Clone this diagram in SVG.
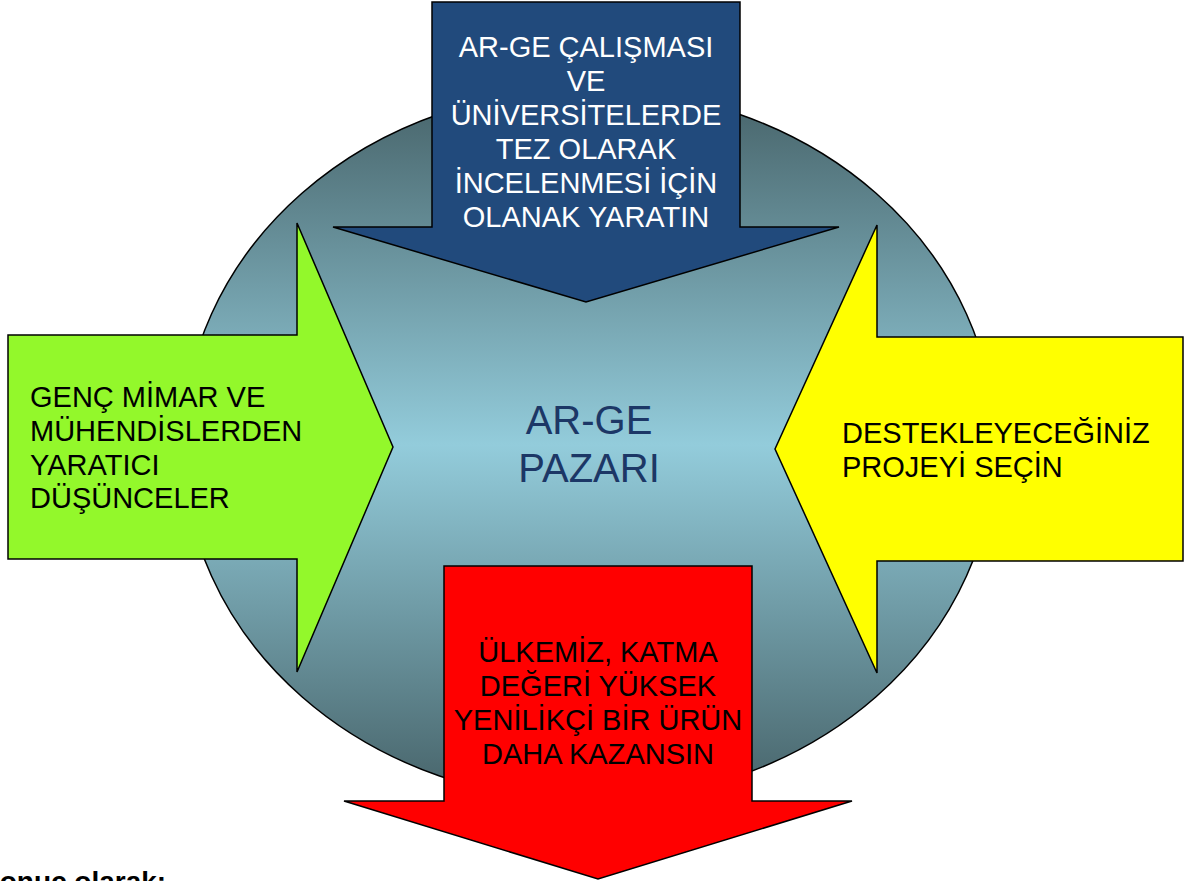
<svg xmlns="http://www.w3.org/2000/svg" width="1184" height="881" viewBox="0 0 1184 881">
<defs>
<linearGradient id="gBall" x1="0" y1="0" x2="0" y2="1">
<stop offset="0" stop-color="#466268"/>
<stop offset="0.5" stop-color="#93ccdb"/>
<stop offset="1" stop-color="#466268"/>
</linearGradient>
</defs>
<style>
.arrow{stroke:#000;stroke-width:1.5;stroke-linejoin:miter}
.t{font-family:"Liberation Sans",Arial,sans-serif;font-size:29px}
.c{text-anchor:middle}
.big{font-size:40px;fill:#1c3766}
.cap{font-weight:bold;font-size:28px}
</style>
<rect width="1184" height="881" fill="#fff"/>
<g id="ball">
<ellipse cx="589" cy="445" rx="406" ry="356" fill="url(#gBall)" stroke="#000" stroke-width="1.5"/>
</g>
<g id="center">
<text class="t c big" x="589" y="434">AR-GE</text>
<text class="t c big" x="589" y="482">PAZARI</text>
</g>
<g id="top-arrow">
<polygon class="arrow" fill="#214a7c" points="432,2 740,2 740,227 839,227 586,302 333,227 432,227"/>
<text class="t c" fill="#fff" x="586" y="57">AR-GE ÇALIŞMASI</text>
<text class="t c" fill="#fff" x="586" y="91">VE</text>
<text class="t c" fill="#fff" x="586" y="125">ÜNİVERSİTELERDE</text>
<text class="t c" fill="#fff" x="586" y="159">TEZ OLARAK</text>
<text class="t c" fill="#fff" x="586" y="193">İNCELENMESİ İÇİN</text>
<text class="t c" fill="#fff" x="586" y="227">OLANAK YARATIN</text>
</g>
<g id="left-arrow">
<polygon class="arrow" fill="#93f82b" points="8,335 297,335 297,223 393,447 297,672 297,559 8,559"/>
<text class="t" x="30" y="407">GENÇ MİMAR VE</text>
<text class="t" x="30" y="441">MÜHENDİSLERDEN</text>
<text class="t" x="30" y="475">YARATICI</text>
<text class="t" x="30" y="508">DÜŞÜNCELER</text>
</g>
<g id="right-arrow">
<polygon class="arrow" fill="#ffff00" points="1183,337 877,337 877,225 775,449 877,673 877,561 1183,561"/>
<text class="t" x="842" y="443">DESTEKLEYECEĞİNİZ</text>
<text class="t" x="842" y="477">PROJEYİ SEÇİN</text>
</g>
<g id="bottom-arrow">
<polygon class="arrow" fill="#ff0000" points="444,566 752,566 752,801 852,801 598,879 344,801 444,801"/>
<text class="t c" x="598" y="662">ÜLKEMİZ, KATMA</text>
<text class="t c" x="598" y="696">DEĞERİ YÜKSEK</text>
<text class="t c" x="598" y="730">YENİLİKÇİ BİR ÜRÜN</text>
<text class="t c" x="598" y="764">DAHA KAZANSIN</text>
</g>
<g id="connectors"/>
<g id="caption">
<text class="t cap" x="-19" y="891">Sonuç olarak:</text>
</g>
</svg>
